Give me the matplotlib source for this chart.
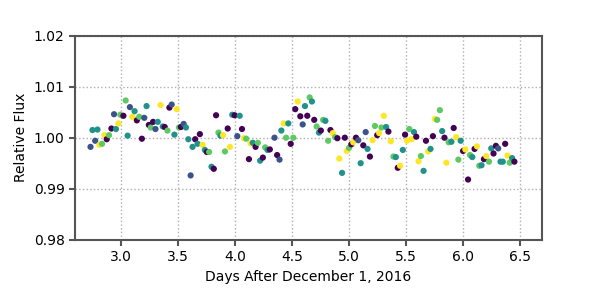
import numpy as np
import matplotlib
matplotlib.use('Agg')
import matplotlib.pyplot as plt

# Observation times (days after Dec 1, 2016), relative flux, and group index (0-4)
days = [2.736, 2.753, 2.777, 2.797, 2.814, 2.837, 2.858, 2.878, 2.898, 2.919,
        2.942, 2.959, 2.980, 2.997, 3.024, 3.044, 3.061, 3.081, 3.102, 3.122,
        3.142, 3.163, 3.186, 3.207, 3.227, 3.247, 3.264, 3.284, 3.305, 3.325,
        3.349, 3.369, 3.386, 3.410, 3.427, 3.447, 3.471, 3.491, 3.511, 3.528,
        3.552, 3.572, 3.593, 3.613, 3.630, 3.653, 3.674, 3.694, 3.718, 3.738,
        3.755, 3.775, 3.796, 3.816, 3.836, 3.857, 3.874, 3.897, 3.914, 3.938,
        3.958, 3.978, 3.999, 4.022, 4.043, 4.063, 4.080, 4.100, 4.124, 4.138,
        4.158, 4.182, 4.202, 4.222, 4.246, 4.266, 4.287, 4.307, 4.348, 4.371,
        4.392, 4.408, 4.429, 4.449, 4.469, 4.490, 4.513, 4.530, 4.551, 4.574,
        4.595, 4.615, 4.635, 4.656, 4.676, 4.696, 4.717, 4.737, 4.754, 4.774,
        4.794, 4.818, 4.838, 4.859, 4.879, 4.899, 4.916, 4.940, 4.964, 4.981,
        5.001, 5.021, 5.038, 5.062, 5.082, 5.103, 5.126, 5.147, 5.163, 5.184,
        5.207, 5.228, 5.248, 5.265, 5.285, 5.306, 5.326, 5.346, 5.367, 5.390,
        5.411, 5.428, 5.448, 5.472, 5.492, 5.509, 5.529, 5.549, 5.570, 5.590,
        5.610, 5.631, 5.654, 5.675, 5.695, 5.715, 5.736, 5.753, 5.773, 5.797,
        5.817, 5.837, 5.854, 5.874, 5.898, 5.918, 5.939, 5.959, 5.979, 6.000,
        6.020, 6.044, 6.061, 6.081, 6.101, 6.122, 6.142, 6.162, 6.183, 6.203,
        6.227, 6.247, 6.267, 6.288, 6.308, 6.328, 6.348, 6.369, 6.389, 6.409,
        6.430, 6.450]

flux = [0.9982, 1.0015, 0.9994, 1.0016, 0.9986, 0.9988, 1.0005, 0.9997, 1.0005, 1.0018,
        1.0046, 1.0017, 1.0028, 1.0045, 1.0043, 1.0073, 1.0004, 1.0060, 1.0041, 1.0052,
        1.0034, 1.0041, 0.9998, 1.0039, 1.0062, 1.0025, 1.0020, 1.0031, 1.0017, 1.0031,
        1.0064, 1.0022, 1.0021, 1.0014, 1.0059, 1.0065, 1.0006, 1.0056, 1.0020, 1.0021,
        1.0027, 1.0020, 0.9997, 0.9926, 0.9982, 0.9997, 0.9988, 1.0007, 0.9986, 0.9976,
        0.9972, 0.9972, 0.9943, 0.9939, 1.0044, 1.0010, 1.0004, 1.0005, 0.9973, 1.0018,
        0.9982, 1.0045, 1.0044, 1.0003, 1.0043, 1.0017, 0.9999, 0.9998, 0.9958, 0.9989,
        0.9990, 0.9982, 0.9990, 0.9955, 0.9961, 0.9981, 0.9976, 0.9977, 1.0000, 0.9966,
        0.9957, 1.0014, 1.0028, 1.0000, 1.0028, 0.9988, 1.0000, 1.0056, 1.0071, 1.0042,
        1.0026, 1.0062, 1.0043, 1.0079, 1.0071, 1.0035, 1.0022, 1.0010, 1.0014, 1.0035,
        1.0033, 0.9994, 1.0015, 1.0009, 1.0001, 0.9999, 0.9959, 0.9931, 1.0000, 0.9974,
        0.9980, 0.9987, 0.9991, 1.0000, 0.9995, 0.9950, 0.9985, 1.0011, 0.9978, 0.9963,
        0.9995, 1.0023, 1.0005, 1.0009, 1.0020, 1.0043, 1.0021, 1.0012, 0.9993, 0.9963,
        0.9962, 0.9941, 0.9945, 0.9976, 1.0006, 0.9994, 1.0017, 0.9997, 1.0011, 1.0002,
        0.9954, 0.9964, 0.9935, 0.9994, 0.9973, 0.9978, 1.0003, 1.0037, 1.0035, 1.0054,
        1.0013, 1.0000, 0.9951, 0.9991, 0.9992, 1.0019, 1.0001, 0.9957, 0.9994, 0.9974,
        0.9977, 0.9918, 0.9966, 0.9962, 0.9978, 0.9983, 0.9945, 0.9946, 0.9958, 0.9964,
        0.9953, 0.9979, 0.9969, 0.9984, 0.9979, 0.9953, 0.9953, 0.9988, 0.9965, 0.9951,
        0.9960, 0.9953]

group = [1, 2, 1, 2, 4, 3, 4, 0, 3, 0,
         1, 2, 4, 3, 0, 3, 2, 1, 4, 2,
         0, 3, 0, 1, 2, 0, 3, 0, 1, 2,
         4, 2, 0, 3, 0, 1, 2, 4, 3, 0,
         1, 2, 2, 1, 2, 0, 2, 0, 4, 2,
         0, 3, 2, 0, 0, 3, 2, 4, 3, 0,
         4, 2, 0, 1, 2, 0, 4, 3, 0, 4,
         2, 0, 3, 2, 0, 3, 2, 0, 1, 0,
         1, 2, 4, 3, 2, 0, 3, 0, 4, 0,
         1, 2, 0, 3, 2, 0, 3, 2, 0, 3,
         2, 3, 0, 4, 3, 0, 4, 2, 0, 4,
         3, 0, 4, 0, 1, 2, 0, 1, 2, 0,
         4, 3, 0, 4, 3, 4, 2, 0, 4, 3,
         2, 0, 4, 2, 0, 4, 3, 4, 2, 0,
         4, 3, 2, 0, 4, 2, 0, 4, 3, 3,
         2, 0, 4, 3, 2, 0, 4, 3, 2, 0,
         4, 0, 3, 2, 0, 4, 3, 2, 0, 4,
         3, 2, 0, 0, 1, 2, 2, 0, 4, 3,
         2, 0]

fig = plt.figure(figsize=(6, 3), dpi=100)
ax = fig.add_axes([0.125, 0.201, 0.778, 0.68])

ax.scatter(days, flux, c=group, cmap='viridis', vmin=0, vmax=4, s=20, linewidths=0, zorder=3)

ax.set_xlim(2.6, 6.69)
ax.set_ylim(0.98, 1.02)
ax.set_xticks([3.0, 3.5, 4.0, 4.5, 5.0, 5.5, 6.0, 6.5])
ax.set_yticks([0.98, 0.99, 1.00, 1.01, 1.02])
ax.set_yticklabels(['0.98', '0.99', '1.00', '1.01', '1.02'])
ax.set_xlabel('Days After December 1, 2016', fontsize=10)
ax.set_ylabel('Relative Flux', fontsize=10)

ax.grid(True, linestyle=':', color='#b0b0b0', linewidth=1, zorder=0)
for sp in ax.spines.values():
    sp.set_color('#555555')
    sp.set_linewidth(1.5)
ax.tick_params(colors='#555555', width=1.5, length=4, labelcolor='black', labelsize=10)

fig.savefig('out.png', dpi=100)
